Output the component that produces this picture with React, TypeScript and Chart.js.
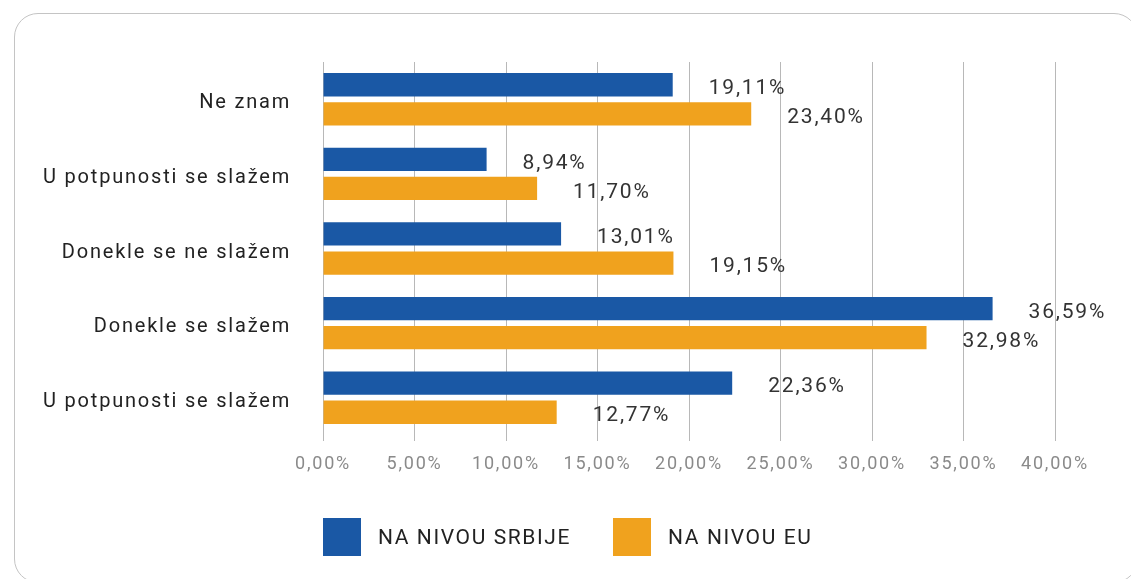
import React, { useEffect, useRef } from "react";
import { Chart, registerables } from "chart.js";

Chart.register(...registerables);

const categories = [
  "Ne znam",
  "U potpunosti se slažem",
  "Donekle se ne slažem",
  "Donekle se slažem",
  "U potpunosti se slažem",
];
const serbiaValues = [19.11, 8.94, 13.01, 36.59, 22.36];
const euValues = [23.4, 11.7, 19.15, 32.98, 12.77];
const seriesNames = ["NA NIVOU SRBIJE", "NA NIVOU EU"];
const seriesColors = ["#1a58a5", "#f0a21e"];
const xTicks = [0, 5, 10, 15, 20, 25, 30, 35, 40];

const FONT = "Roboto, 'DejaVu Sans', sans-serif";

const fmt = (v: number) => v.toFixed(2).replace(".", ",") + "%";

const spacing = {
  id: "spacing",
  beforeDraw(chart: any) {
    (chart.ctx as any).letterSpacing = "1.8px";
  },
};

const valueLabels = {
  id: "valueLabels",
  afterDatasetsDraw(chart: any) {
    const ctx = chart.ctx;
    ctx.save();
    (ctx as any).letterSpacing = "1.8px";
    ctx.font = `21px ${FONT}`;
    ctx.fillStyle = "#333333";
    ctx.textAlign = "left";
    ctx.textBaseline = "middle";
    chart.data.datasets.forEach((ds: any, di: number) => {
      const meta = chart.getDatasetMeta(di);
      meta.data.forEach((el: any, i: number) => {
        ctx.fillText(fmt(ds.data[i]), el.x + 36, el.y + 4);
      });
    });
    ctx.restore();
  },
};

export default function App() {
  const ref = useRef<HTMLCanvasElement | null>(null);

  useEffect(() => {
    if (!ref.current) return;
    const chart = new Chart(ref.current, {
      type: "bar",
      data: {
        labels: categories,
        datasets: [
          {
            label: seriesNames[0],
            data: serbiaValues,
            backgroundColor: seriesColors[0],
            categoryPercentage: 0.78,
            barPercentage: 0.8,
          },
          {
            label: seriesNames[1],
            data: euValues,
            backgroundColor: seriesColors[1],
            categoryPercentage: 0.78,
            barPercentage: 0.8,
          },
        ],
      },
      options: {
        indexAxis: "y",
        responsive: false,
        animation: false,
        layout: { padding: { left: 0, right: 84, top: 62, bottom: 0 } },
        plugins: {
          legend: { display: false },
          tooltip: { enabled: false },
        },
        scales: {
          x: {
            min: 0,
            max: 40,
            afterFit: (s: any) => {
              s.height = 152;
            },
            afterBuildTicks: (s: any) => {
              s.ticks = xTicks.map((v) => ({ value: v }));
            },
            border: { display: false },
            grid: {
              color: "#b8b8b8",
              lineWidth: 1,
              drawTicks: true,
              tickLength: 6,
              tickColor: "#b8b8b8",
            },
            ticks: {
              autoSkip: false,
              maxRotation: 0,
              padding: 13,
              color: "#8a8a8a",
              font: { family: FONT, size: 18 },
              callback: (v: any) => fmt(Number(v)),
            },
          },
          y: {
            afterFit: (s: any) => {
              s.width = 323;
            },
            border: { display: false },
            grid: { display: false },
            ticks: {
              padding: 24,
              labelOffset: 4,
              color: "#222222",
              font: { family: FONT, size: 20 },
            },
          },
        },
      },
      plugins: [spacing, valueLabels],
    });
    return () => chart.destroy();
  }, []);

  return (
    <div
      style={{
        position: "relative",
        width: 1139,
        height: 587,
        margin: -8,
        overflow: "hidden",
        background: "#ffffff",
        fontFamily: FONT,
      }}
    >
      <div
        style={{
          position: "absolute",
          left: 14,
          top: 13,
          width: 1122,
          height: 568,
          border: "1px solid #c4c4c4",
          borderRadius: 24,
        }}
      />
      <canvas
        ref={ref}
        width={1139}
        height={587}
        style={{ position: "absolute", left: 0, top: 0 }}
      />
      <div
        style={{
          position: "absolute",
          left: 323,
          top: 518,
          display: "flex",
          alignItems: "center",
        }}
      >
        {seriesNames.map((name, i) => (
          <div
            key={name}
            style={{
              display: "flex",
              alignItems: "center",
              marginRight: i === 0 ? 42 : 0,
            }}
          >
            <div
              style={{
                width: 38,
                height: 38,
                background: seriesColors[i],
                marginRight: 17,
              }}
            />
            <span style={{ fontSize: 21, color: "#222222", letterSpacing: 1.6 }}>
              {name}
            </span>
          </div>
        ))}
      </div>
    </div>
  );
}
